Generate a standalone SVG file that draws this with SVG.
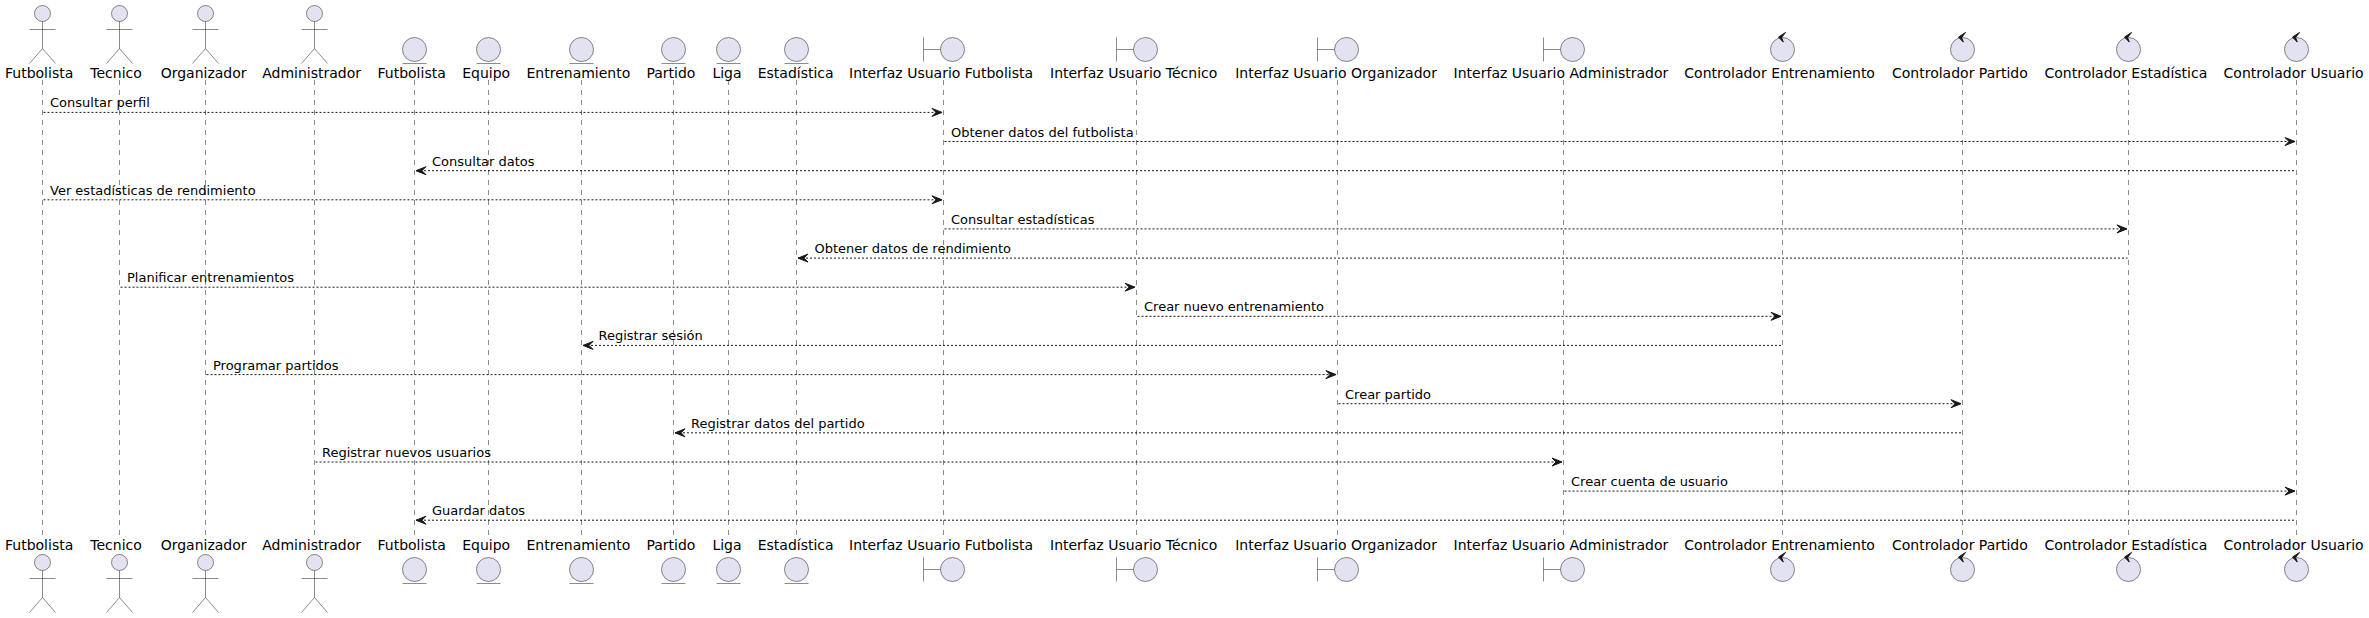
<svg xmlns="http://www.w3.org/2000/svg" width="2369" height="618" viewBox="0 0 2369 618">
<style>
text{font-family:"DejaVu Sans",sans-serif;fill:#000}
.p{font-size:14px}
.m{font-size:13px}
.shape{fill:#E2E2F0;stroke:#181818;stroke-width:.5}
.stroke{fill:none;stroke:#181818;stroke-width:.5}
.life{stroke:#181818;stroke-width:.5;stroke-dasharray:5,5}
.msg{stroke:#181818;stroke-width:1;stroke-dasharray:2,2}
.head{fill:#181818;stroke:#181818;stroke-width:1}
.r{marker-end:url(#arrowR)}
.l{marker-start:url(#arrowL)}
</style>
<defs>
<marker id="arrowR" markerUnits="userSpaceOnUse" markerWidth="14" markerHeight="12" refX="12" refY="6" orient="0"><polygon class="head" points="2,2 12,6 2,10 6,6"/></marker>
<marker id="arrowL" markerUnits="userSpaceOnUse" markerWidth="14" markerHeight="12" refX="2" refY="6" orient="0"><polygon class="head" points="12,2 2,6 12,10 8,6"/></marker>
<g id="actor"><circle class="shape" cx="0" cy="0" r="8"/><path class="stroke" d="M0,8V35M-13,16H13M0,35L-13,50M0,35L13,50"/></g>
<g id="entity"><circle class="shape" cx="0" cy="0" r="12"/><path class="stroke" d="M-12,14H12"/></g>
<g id="boundary"><circle class="shape" cx="9" cy="0" r="12"/><path class="stroke" d="M-20,-12V12M-20,0H-3"/></g>
<g id="control"><circle class="shape" cx="0" cy="0" r="12"/><polygon class="head" points="3,-17 -4,-12.4 0.8,-7.4 -0.9,-12"/></g>
</defs>
<rect width="2369" height="618" fill="#fff"/>
<g id="lifelines">
<line class="life" x1="42.5" x2="42.5" y1="80" y2="537"/>
<line class="life" x1="119.5" x2="119.5" y1="80" y2="537"/>
<line class="life" x1="205.5" x2="205.5" y1="80" y2="537"/>
<line class="life" x1="314.5" x2="314.5" y1="80" y2="537"/>
<line class="life" x1="414.5" x2="414.5" y1="80" y2="537"/>
<line class="life" x1="488.5" x2="488.5" y1="80" y2="537"/>
<line class="life" x1="581.5" x2="581.5" y1="80" y2="537"/>
<line class="life" x1="673.5" x2="673.5" y1="80" y2="537"/>
<line class="life" x1="728.5" x2="728.5" y1="80" y2="537"/>
<line class="life" x1="796.5" x2="796.5" y1="80" y2="537"/>
<line class="life" x1="943.5" x2="943.5" y1="80" y2="537"/>
<line class="life" x1="1136.5" x2="1136.5" y1="80" y2="537"/>
<line class="life" x1="1337.5" x2="1337.5" y1="80" y2="537"/>
<line class="life" x1="1563.5" x2="1563.5" y1="80" y2="537"/>
<line class="life" x1="1782.5" x2="1782.5" y1="80" y2="537"/>
<line class="life" x1="1962.5" x2="1962.5" y1="80" y2="537"/>
<line class="life" x1="2128.5" x2="2128.5" y1="80" y2="537"/>
<line class="life" x1="2296.5" x2="2296.5" y1="80" y2="537"/>
</g>
<g id="connectors">
<line class="msg r" x1="43.5" x2="942" y1="112.4" y2="112.4"/><text class="m" x="50" y="107.4">Consultar perfil</text>
<line class="msg r" x1="944.5" x2="2295" y1="141.5" y2="141.5"/><text class="m" x="951" y="136.5">Obtener datos del futbolista</text>
<line class="msg l" x1="416" x2="2295.5" y1="170.7" y2="170.7"/><text class="m" x="432" y="165.7">Consultar datos</text>
<line class="msg r" x1="43.5" x2="942" y1="199.8" y2="199.8"/><text class="m" x="50" y="194.8">Ver estadísticas de rendimiento</text>
<line class="msg r" x1="944.5" x2="2127" y1="228.9" y2="228.9"/><text class="m" x="951" y="223.9">Consultar estadísticas</text>
<line class="msg l" x1="798" x2="2127.5" y1="258.1" y2="258.1"/><text class="m" x="814.5" y="253.1">Obtener datos de rendimiento</text>
<line class="msg r" x1="120.5" x2="1135" y1="287.2" y2="287.2"/><text class="m" x="127" y="282.2">Planificar entrenamientos</text>
<line class="msg r" x1="1137.5" x2="1781" y1="316.3" y2="316.3"/><text class="m" x="1144" y="311.3">Crear nuevo entrenamiento</text>
<line class="msg l" x1="583" x2="1781.5" y1="345.4" y2="345.4"/><text class="m" x="598.5" y="340.4">Registrar sesión</text>
<line class="msg r" x1="206.5" x2="1336" y1="374.6" y2="374.6"/><text class="m" x="213" y="369.6">Programar partidos</text>
<line class="msg r" x1="1338.5" x2="1961" y1="403.7" y2="403.7"/><text class="m" x="1345" y="398.7">Crear partido</text>
<line class="msg l" x1="675" x2="1961.5" y1="432.8" y2="432.8"/><text class="m" x="691" y="427.8">Registrar datos del partido</text>
<line class="msg r" x1="315.5" x2="1562" y1="462" y2="462"/><text class="m" x="322" y="457">Registrar nuevos usuarios</text>
<line class="msg r" x1="1564.5" x2="2295" y1="491.1" y2="491.1"/><text class="m" x="1571" y="486.1">Crear cuenta de usuario</text>
<line class="msg l" x1="416" x2="2295.5" y1="520.2" y2="520.2"/><text class="m" x="432" y="515.2">Guardar datos</text>
</g>
<g id="p-futbolista"><use href="#actor" x="42.5" y="13.5"/><text class="p" x="5" y="78">Futbolista</text><text class="p" x="5" y="550">Futbolista</text><use href="#actor" x="42.5" y="562.5"/></g>
<g id="p-tecnico"><use href="#actor" x="119.5" y="13.5"/><text class="p" x="90.3" y="78">Tecnico</text><text class="p" x="90.3" y="550">Tecnico</text><use href="#actor" x="119.5" y="562.5"/></g>
<g id="p-organizador"><use href="#actor" x="205.5" y="13.5"/><text class="p" x="160.7" y="78">Organizador</text><text class="p" x="160.7" y="550">Organizador</text><use href="#actor" x="205.5" y="562.5"/></g>
<g id="p-administrador"><use href="#actor" x="314.5" y="13.5"/><text class="p" x="262.2" y="78">Administrador</text><text class="p" x="262.2" y="550">Administrador</text><use href="#actor" x="314.5" y="562.5"/></g>
<g id="e-futbolista"><use href="#entity" x="414.5" y="49.5"/><text class="p" x="377.5" y="78">Futbolista</text><text class="p" x="377.5" y="550">Futbolista</text><use href="#entity" x="414.5" y="569.5"/></g>
<g id="e-equipo"><use href="#entity" x="488.5" y="49.5"/><text class="p" x="462.2" y="78">Equipo</text><text class="p" x="462.2" y="550">Equipo</text><use href="#entity" x="488.5" y="569.5"/></g>
<g id="e-entrenamiento"><use href="#entity" x="581.5" y="49.5"/><text class="p" x="526.5" y="78">Entrenamiento</text><text class="p" x="526.5" y="550">Entrenamiento</text><use href="#entity" x="581.5" y="569.5"/></g>
<g id="e-partido"><use href="#entity" x="673.5" y="49.5"/><text class="p" x="646.4" y="78">Partido</text><text class="p" x="646.4" y="550">Partido</text><use href="#entity" x="673.5" y="569.5"/></g>
<g id="e-liga"><use href="#entity" x="728.5" y="49.5"/><text class="p" x="712.4" y="78">Liga</text><text class="p" x="712.4" y="550">Liga</text><use href="#entity" x="728.5" y="569.5"/></g>
<g id="e-estadistica"><use href="#entity" x="796.5" y="49.5"/><text class="p" x="757.7" y="78">Estadística</text><text class="p" x="757.7" y="550">Estadística</text><use href="#entity" x="796.5" y="569.5"/></g>
<g id="b-futbolista"><use href="#boundary" x="943.5" y="49.5"/><text class="p" x="849" y="78">Interfaz Usuario Futbolista</text><text class="p" x="849" y="550">Interfaz Usuario Futbolista</text><use href="#boundary" x="943.5" y="569.5"/></g>
<g id="b-tecnico"><use href="#boundary" x="1136.5" y="49.5"/><text class="p" x="1050" y="78">Interfaz Usuario Técnico</text><text class="p" x="1050" y="550">Interfaz Usuario Técnico</text><use href="#boundary" x="1136.5" y="569.5"/></g>
<g id="b-organizador"><use href="#boundary" x="1337.5" y="49.5"/><text class="p" x="1235.2" y="78">Interfaz Usuario Organizador</text><text class="p" x="1235.2" y="550">Interfaz Usuario Organizador</text><use href="#boundary" x="1337.5" y="569.5"/></g>
<g id="b-administrador"><use href="#boundary" x="1563.5" y="49.5"/><text class="p" x="1453.6" y="78">Interfaz Usuario Administrador</text><text class="p" x="1453.6" y="550">Interfaz Usuario Administrador</text><use href="#boundary" x="1563.5" y="569.5"/></g>
<g id="c-entrenamiento"><use href="#control" x="1782.5" y="49.5"/><text class="p" x="1684.3" y="78">Controlador Entrenamiento</text><text class="p" x="1684.3" y="550">Controlador Entrenamiento</text><use href="#control" x="1782.5" y="569.5"/></g>
<g id="c-partido"><use href="#control" x="1962.5" y="49.5"/><text class="p" x="1892" y="78">Controlador Partido</text><text class="p" x="1892" y="550">Controlador Partido</text><use href="#control" x="1962.5" y="569.5"/></g>
<g id="c-estadistica"><use href="#control" x="2128.5" y="49.5"/><text class="p" x="2044.5" y="78">Controlador Estadística</text><text class="p" x="2044.5" y="550">Controlador Estadística</text><use href="#control" x="2128.5" y="569.5"/></g>
<g id="c-usuario"><use href="#control" x="2296.5" y="49.5"/><text class="p" x="2223.6" y="78">Controlador Usuario</text><text class="p" x="2223.6" y="550">Controlador Usuario</text><use href="#control" x="2296.5" y="569.5"/></g>
</svg>
